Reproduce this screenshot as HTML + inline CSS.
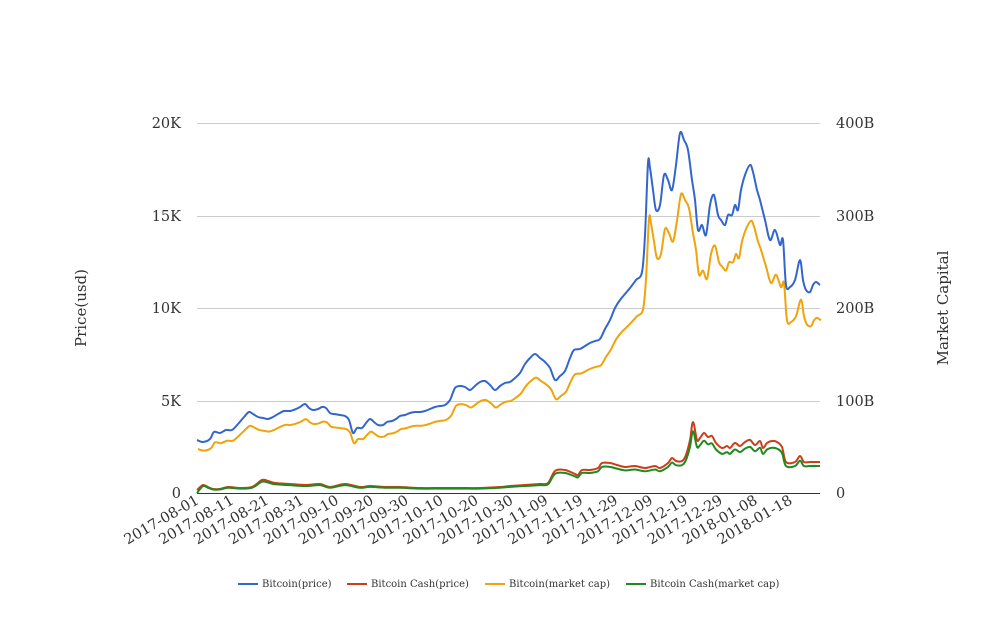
<!DOCTYPE html>
<html><head><meta charset="utf-8"><style>
body{margin:0;background:#fff}
svg text{font-family:"DejaVu Serif","Liberation Serif",serif;fill:#333}
</style></head><body>
<svg id="s" width="1008" height="616" xmlns="http://www.w3.org/2000/svg">
<g stroke="#ccc" stroke-width="1">
<line x1="197" y1="123.5" x2="820" y2="123.5"/>
<line x1="197" y1="216.5" x2="820" y2="216.5"/>
<line x1="197" y1="308.5" x2="820" y2="308.5"/>
<line x1="197" y1="401.5" x2="820" y2="401.5"/>
</g>
<line x1="197" y1="493.5" x2="820" y2="493.5" stroke="#333" stroke-width="1"/>
<g font-size="14.5" text-anchor="end">
<text x="181" y="128">20K</text><text x="181" y="221">15K</text><text x="181" y="313">10K</text><text x="181" y="406">5K</text><text x="181" y="498">0</text>
</g>
<g font-size="14.5" text-anchor="start">
<text x="836" y="128">400B</text><text x="836" y="221">300B</text><text x="836" y="313">200B</text><text x="836" y="406">100B</text><text x="836" y="498">0</text>
</g>
<text font-size="15" transform="translate(86,308) rotate(-90)" text-anchor="middle">Price(usd)</text>
<text font-size="15" transform="translate(948,308) rotate(-90)" text-anchor="middle">Market Capital</text>
<g id="dates" font-size="14.5" text-anchor="end"></g>
<g id="lines" fill="none" stroke-width="2" stroke-linejoin="round"></g>
<g font-size="10">
<line x1="238" y1="584" x2="258" y2="584" stroke="#3366cc" stroke-width="2"/><text x="262" y="587">Bitcoin(price)</text>
<line x1="347" y1="584" x2="367" y2="584" stroke="#cc3e1b" stroke-width="2"/><text x="371" y="587">Bitcoin Cash(price)</text>
<line x1="485" y1="584" x2="505" y2="584" stroke="#f0a30a" stroke-width="2"/><text x="509" y="587">Bitcoin(market cap)</text>
<line x1="626" y1="584" x2="646" y2="584" stroke="#1f8a1f" stroke-width="2"/><text x="650" y="587">Bitcoin Cash(market cap)</text>
</g>
</svg>
<script>
var NS="http://www.w3.org/2000/svg";
var ds=["2017-08-01","2017-08-11","2017-08-21","2017-08-31","2017-09-10","2017-09-20","2017-09-30","2017-10-10","2017-10-20","2017-10-30","2017-11-09","2017-11-19","2017-11-29","2017-12-09","2017-12-19","2017-12-29","2018-01-08","2018-01-18"];
var g=document.getElementById("dates");
ds.forEach(function(d,i){var x=200+i*34.9;var t=document.createElementNS(NS,"text");t.setAttribute("transform","translate("+x+",503) rotate(-30)");t.textContent=d;g.appendChild(t);});
var blue=[197,440,203,442,210,439,214,432,220,433,226,430,232,430,238,424,244,417,249,412,253,414,258,417,263,418,268,419,273,417,278,414,284,411,290,411,296,409,300,407,305,404,309,408,313,410,318,409,322,407,326,408,330,413,334,414,340,415,345,416,349,420,353,433,357,428,362,428,366,423,370,419,374,422,378,425,383,425,387,422,392,421,396,419,400,416,405,415,410,413,415,412,420,412,425,411,430,409,435,407,440,406,445,405,450,400,455,388,460,386,465,387,470,390,476,385,480,382,485,381,490,385,495,390,500,386,505,383,510,382,515,378,520,373,525,364,530,358,535,354,540,358,545,362,550,368,555,380,560,376,565,371,570,358,574,350,580,349,585,346,590,343,595,341,600,339,605,329,610,320,615,308,620,300,625,294,630,288,636,280,642,272,645,235,648,163,650,168,653,190,656,210,660,205,664,175,668,180,672,190,676,165,680,133,684,140,688,150,692,180,695,200,698,230,702,225,706,235,710,205,714,195,718,215,721,220,725,225,728,215,732,215,735,205,738,210,741,190,745,175,750,165,753,172,757,190,760,200,765,220,770,240,775,230,780,245,783,240,786,285,790,287,795,280,800,260,803,280,806,290,810,292,813,285,816,282,820,285];
var red=[197,490,203,485,208,487,213,489,220,489,228,487,240,488,252,487,262,480,268,481,275,483,290,484,305,485,320,484,330,487,345,484,360,487,370,486,385,487,400,487,420,488,440,488,460,488,480,488,500,487,510,486,525,485,540,484,548,483,555,471,565,470,575,474,578,475,582,470,590,470,598,468,602,463,610,463,617,465,625,467,635,466,645,468,655,466,660,468,668,463,672,458,676,461,682,461,686,455,690,440,693,422,697,440,700,438,704,433,708,437,712,436,716,443,722,448,727,446,730,448,735,443,740,446,745,442,750,440,755,445,760,441,763,448,767,443,772,441,777,442,782,447,786,462,795,462,800,456,804,462,810,462,820,462];
function scale(a,k,sh){var r=[];for(var i=0;i<a.length;i+=2){r.push(a[i]+(sh||0),493-k*(493-a[i+1]));}return r;}
var orange=scale(blue,0.83,1);
var green=scale(red,0.87,0);green[1]=493;
function path(a){var p=[];for(var i=0;i<a.length;i+=2)p.push([a[i],a[i+1]]);
var d="M"+p[0][0]+","+p[0][1];
for(var i=0;i<p.length-1;i++){var p0=p[i-1]||p[i],p1=p[i],p2=p[i+1],p3=p[i+2]||p2;
d+="C"+(p1[0]+(p2[0]-p0[0])/6).toFixed(1)+","+(p1[1]+(p2[1]-p0[1])/6).toFixed(1)+" "+(p2[0]-(p3[0]-p1[0])/6).toFixed(1)+","+(p2[1]-(p3[1]-p1[1])/6).toFixed(1)+" "+p2[0]+","+p2[1];}
return d;}
var L=document.getElementById("lines");
[[red,"#cc3e1b"],[orange,"#f0a30a"],[green,"#1f8a1f"],[blue,"#3366cc"]].forEach(function(s){var e=document.createElementNS(NS,"path");e.setAttribute("d",path(s[0]));e.setAttribute("stroke",s[1]);L.appendChild(e);});
</script>
</body></html>
